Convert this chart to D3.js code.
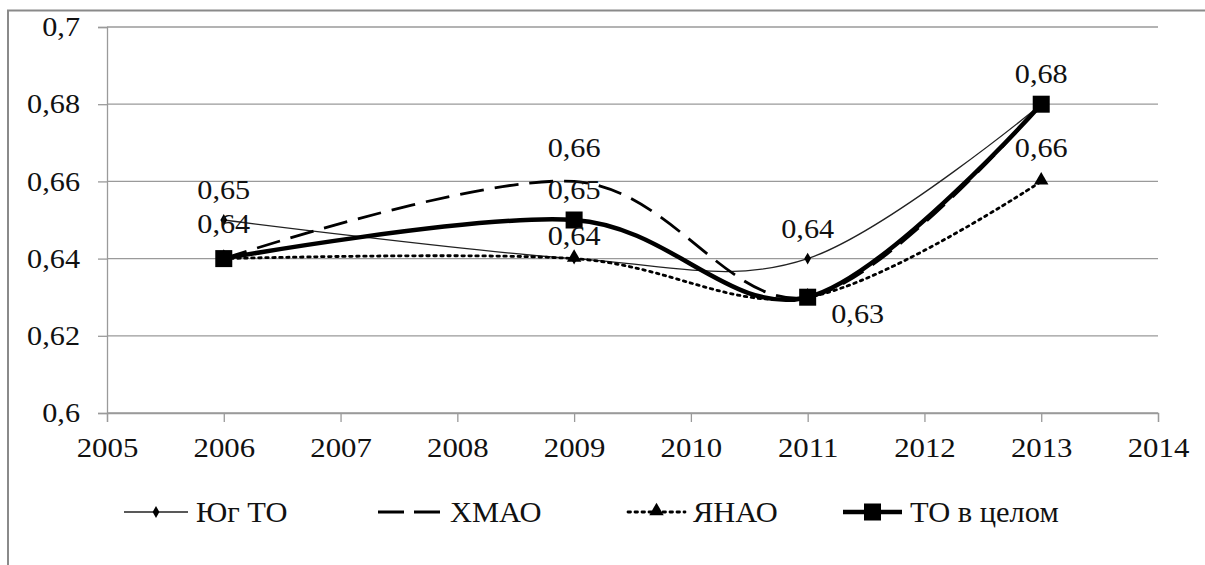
<!DOCTYPE html>
<html><head><meta charset="utf-8">
<script src="https://cdn.jsdelivr.net/npm/d3@7"></script>
</head>
<body style="margin:0;background:#fff"><svg id="c" width="1205" height="565"></svg>
<script>
const years = [2006, 2009, 2011, 2013];
const seriesNames = ["Юг ТО", "ХМАО", "ЯНАО", "ТО в целом"];
const yugTO = [0.65, 0.64, 0.64, 0.68];
const hmao = [0.64, 0.66, 0.63, 0.68];
const yanao = [0.64, 0.64, 0.63, 0.66];
const toTotal = [0.64, 0.65, 0.63, 0.68];
const xTicks = [2005, 2006, 2007, 2008, 2009, 2010, 2011, 2012, 2013, 2014];
const yTicks = [0.6, 0.62, 0.64, 0.66, 0.68, 0.7];
// which points carry a data label: [series index, point index]
const labelled = [[0,0],[3,0],[1,1],[3,1],[2,1],[0,2],[3,2],[3,3],[2,3]];

const FONT = "'Liberation Serif', 'Times New Roman', serif";
const svg = d3.select("#c");
const fmt = d => String(+d.toFixed(2)).replace(".", ",");
const SX = 1.12;

// outer border
svg.append("path").attr("d","M8,565 V10.5 H1205").attr("fill","none").attr("stroke","#8a8a8a").attr("stroke-width",2);

const x = d3.scaleLinear().domain([2005, 2014]).range([107, 1158]);
const y = d3.scaleLinear().domain([0.6, 0.7]).range([413, 27]);

// gridlines
svg.append("g").selectAll("line").data(yTicks).join("line")
  .attr("x1", 107).attr("x2", 1158).attr("y1", d => y(d)).attr("y2", d => y(d))
  .attr("stroke", "#9a9a9a").attr("stroke-width", 1.3);

// y axis
const ya = svg.append("g").attr("transform","translate(107,0)")
  .call(d3.axisLeft(y).tickValues(yTicks).tickFormat(fmt).tickSize(9).tickPadding(18));
ya.select(".domain").attr("stroke","#9a9a9a").attr("stroke-width",1.3);
ya.selectAll(".tick line").attr("stroke","#9a9a9a").attr("stroke-width",1.3);
ya.selectAll(".tick text").attr("font-size",null).style("font-size","27px").style("font-family",FONT).attr("fill","#111")
  .attr("x",0).attr("transform","translate(-27,0) scale(" + SX + ",1)");

// x axis
const xa = svg.append("g").attr("transform","translate(0,413)")
  .call(d3.axisBottom(x).tickValues(xTicks).tickFormat(d3.format("d")).tickSize(9).tickPadding(15));
xa.select(".domain").attr("stroke","#9a9a9a").attr("stroke-width",1.3);
xa.selectAll(".tick line").attr("stroke","#9a9a9a").attr("stroke-width",1.3);
xa.selectAll(".tick text").attr("font-size",null).style("font-size","28px").style("font-family",FONT).attr("fill","#111")
  .attr("y",0).attr("transform","translate(0,24) scale(1.1,1)");

const allSeries = [yugTO, hmao, yanao, toTotal];
const styles = [
  {w:1.3, dash:null, marker:"diamond", col:"#222"},
  {w:2.8, dash:"24,11", marker:null, col:"#000"},
  {w:2.8, dash:"2.5,4.5", marker:"triangle", col:"#000"},
  {w:4.5, dash:null, marker:"square", col:"#000"}
];
const line = d3.line().x((d,i) => x(years[i])).y(d => y(d)).curve(d3.curveCardinal.tension(0));

function marker(g, type, cx, cy){
  if(type==="diamond") g.append("path").attr("d", d3.symbol(d3.symbolDiamond, 40)()).attr("transform",`translate(${cx},${cy})`).attr("fill","#000");
  if(type==="triangle") g.append("path").attr("d", d3.symbol(d3.symbolTriangle, 90)()).attr("transform",`translate(${cx},${cy-1})`).attr("fill","#000");
  if(type==="square") g.append("rect").attr("x",cx-8.5).attr("y",cy-8.5).attr("width",17).attr("height",17).attr("fill","#000");
}

const order = [0,2,1,3];
order.forEach(si => {
  const s = styles[si];
  svg.append("path").attr("d", line(allSeries[si])).attr("fill","none")
    .attr("stroke", s.col).attr("stroke-width", s.w).attr("stroke-dasharray", s.dash)
    .attr("stroke-linecap", si===2 ? "round" : "butt");
});
order.forEach(si => {
  const s = styles[si];
  const g = svg.append("g");
  if(s.marker) allSeries[si].forEach((v,i) => marker(g, s.marker, x(years[i]), y(v)));
});

// data labels
labelled.forEach(([si, pi]) => {
  const v = allSeries[si][pi];
  let px = x(years[pi]), py = y(v) - 21;
  if(si===2 && pi===1) py = y(v) - 14;
  if(si===2 && pi===3) py = y(v) - 24;
  if(si===1 && pi===1) py = y(v) - 24;
  if(si===3 && pi===0) py = y(v) - 26;
  if(si===3 && pi===2){ px += 50; py = y(v) + 26; }
  svg.append("text").attr("text-anchor","middle").style("font-size","27px").style("font-family",FONT).attr("fill","#111")
    .attr("transform",`translate(${px},${py}) scale(${SX},1)`).text(fmt(v));
});

// legend
const legX = [124, 378, 628, 843];
const legW = [64, 64, 57, 59];
const ly = 512;
seriesNames.forEach((n, si) => {
  const s = styles[si];
  const g = svg.append("g");
  g.append("line").attr("x1", legX[si]).attr("x2", legX[si]+legW[si]).attr("y1", ly).attr("y2", ly)
    .attr("stroke", s.col).attr("stroke-width", s.w).attr("stroke-dasharray", si===1 ? "26,10" : s.dash)
    .attr("stroke-linecap", si===2 ? "round" : "butt");
  marker(g, s.marker, legX[si]+legW[si]/2, ly);
  g.append("text").style("font-size","29px").style("font-family",FONT).attr("fill","#111")
    .attr("transform",`translate(${legX[si]+legW[si]+8},${ly+10}) scale(1.05,1)`).text(n);
});
</script></body></html>
